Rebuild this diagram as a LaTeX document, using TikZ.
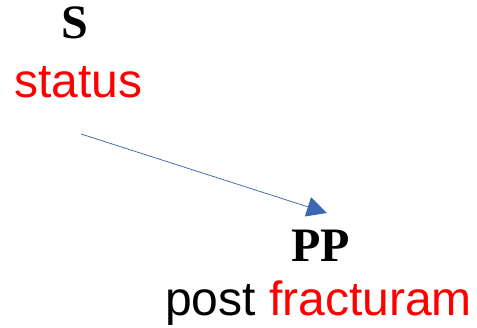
\documentclass[tikz,border=0pt]{standalone}
\usepackage{fontspec}
\setmainfont{Liberation Sans}
\newfontfamily\capsfont{Liberation Serif}
\usetikzlibrary{arrows.meta}
\definecolor{arrowblue}{HTML}{3B68B0}
\begin{document}
\begin{tikzpicture}[
    x=1pt, y=1pt,
    symbol/.style={
        anchor=base west,
        inner sep=0pt,
        font=\capsfont\bfseries\fontsize{48}{48}\selectfont
    },
    word/.style={
        anchor=base west,
        inner sep=0pt,
        font=\fontsize{48}{48}\selectfont
    },
    link/.style={
        draw=arrowblue,
        line width=0.75pt,
        -{Triangle[length=20pt, width=20pt]}
    }
]
    \useasboundingbox (0,0) rectangle (477,328);

    \node[symbol] (S) at (61,289) {S};
    \node[word, text=red] (status) at (14,230) {status};

    \node[symbol] (PP) at (291,66) {PP};
    \node[word] (post) at (165,12) {post \textcolor{red}{fracturam}};

    \coordinate (from) at (81,194);
    \coordinate (to) at (327,115);
    \draw[link] (from) -- (to);

\end{tikzpicture}
\end{document}
